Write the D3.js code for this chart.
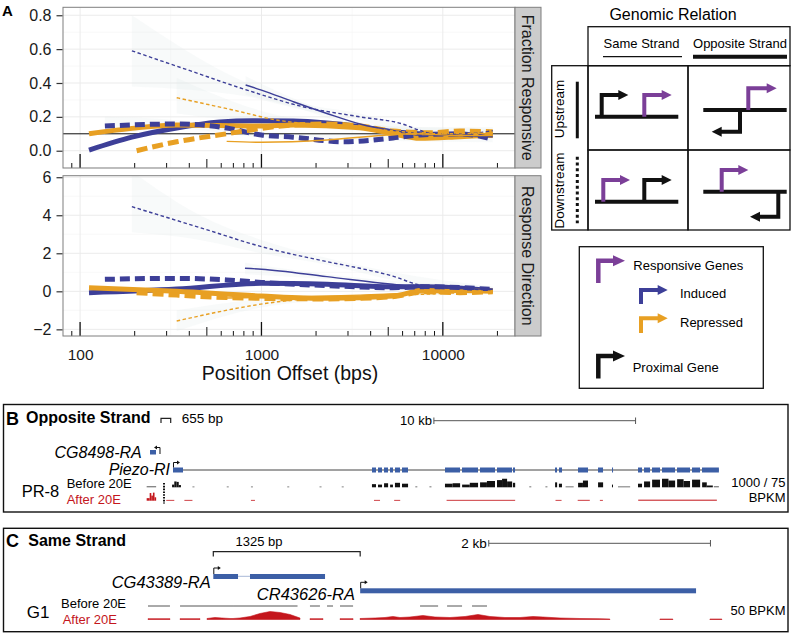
<!DOCTYPE html>
<html><head><meta charset="utf-8">
<script src="https://cdn.jsdelivr.net/npm/d3@7"></script>
<style>body{margin:0;background:#fff}svg{display:block;font-family:"Liberation Sans",Arial,Helvetica,sans-serif}</style>
</head><body><svg id="c" width="794" height="635"></svg>
<script>
// ---------------- DATA ----------------
const xTickValues = [100, 1000, 10000];
const facetLabels = ["Fraction Responsive", "Response Direction"];
const yTicksFraction = [0, 0.2, 0.4, 0.6, 0.8];
const yTicksDirection = [-2, 0, 2, 4, 6];
const fractionReference = 0.1;
const logTickMantissas = [1,2,3,4,5,6,7,8,9];
const logTickDecades = [10, 100, 1000, 10000];

// Fraction Responsive  [offset bp, value]
const frIndSameDown = [[193,0.59],[400,0.474],[832,0.358],[1694,0.26],[3491,0.2],[6030,0.157],[7470,0.12],[9000,0.1],[13000,0.1],[18840,0.118]];
const frIndSameUp   = [[818,0.388],[1000,0.358],[1493,0.29],[2296,0.22],[3491,0.158],[5300,0.12],[7470,0.1],[12000,0.09],[18840,0.085]];
const frRepSameDown = [[341,0.313],[700,0.24],[1233,0.18],[2500,0.15],[5000,0.12],[9000,0.1],[18840,0.105]];
const frRepSameUp   = [[643,0.055],[1000,0.05],[2296,0.063],[4910,0.093],[7000,0.1],[12000,0.09],[18840,0.09]];
const frIndOppUp    = [[112,0.004],[193,0.08],[341,0.134],[590,0.169],[898,0.177],[1493,0.175],[3491,0.142],[5300,0.112],[7470,0.1],[12000,0.09],[18840,0.09]];
const frIndOppDown  = [[137,0.146],[341,0.158],[643,0.134],[1000,0.093],[1493,0.08],[2812,0.053],[5300,0.075],[7470,0.093],[12400,0.1],[18840,0.067]];
const frRepOppUp    = [[112,0.1],[193,0.132],[341,0.152],[1000,0.146],[1493,0.152],[3491,0.136],[5300,0.1],[7470,0.073],[12400,0.083],[18840,0.093]];
const frRepOppDown  = [[205,0.0],[341,0.053],[643,0.1],[1000,0.132],[1493,0.152],[2296,0.158],[3491,0.146],[5300,0.116],[8300,0.106],[12400,0.116],[18840,0.112]];

// Response Direction
const rdIndSameDown = [[193,4.45],[458,3.35],[1000,2.35],[2296,1.56],[3491,1.21],[5300,0.8],[7470,0.33],[12000,0.15],[18840,0.07]];
const rdIndSameUp   = [[811,1.21],[1000,1.16],[2296,0.77],[5300,0.37],[7470,0.24],[12000,0.15],[18840,0.1]];
const rdRepSameDown = [[341,-1.56],[1233,-0.55],[1493,-0.46],[3491,-0.28],[7470,-0.16],[18840,0.0]];
const rdRepSameUp   = [[643,-0.35],[1500,-0.3],[3500,-0.2],[7470,-0.08],[18840,-0.02]];
const rdIndOppUp    = [[112,-0.07],[341,0.12],[1000,0.42],[2296,0.37],[5300,0.24],[8000,0.24],[18840,0.03]];
const rdIndOppDown  = [[137,0.63],[341,0.68],[643,0.6],[1000,0.47],[2296,0.3],[5300,0.19],[8000,0.24],[18840,0.1]];
const rdRepOppUp    = [[112,0.19],[341,0.0],[1000,-0.25],[2296,-0.37],[5300,-0.25],[8000,0.07],[18840,0.0]];
const rdRepOppDown  = [[205,-0.07],[341,-0.2],[643,-0.33],[1000,-0.37],[2296,-0.4],[5300,-0.28],[8000,-0.02],[12400,-0.07],[18840,-0.02]];

// confidence bands [offset, low, high]
const frBandIndSameDown = [[193,0.38,0.8],[832,0.32,0.40],[1694,0.24,0.28],[3491,0.18,0.22],[7470,0.09,0.14],[18840,0.09,0.14]];
const frBandRepSameDown = [[341,0.22,0.43],[1233,0.15,0.21],[3000,0.12,0.16],[18840,0.08,0.13]];
const frBandIndSameUp   = [[818,0.33,0.44],[1493,0.26,0.31],[3491,0.14,0.17],[18840,0.07,0.1]];
const frBandIndOppDown  = [[137,0.09,0.2],[341,0.13,0.18],[1000,0.08,0.11],[18840,0.05,0.08]];
const rdBandIndSameDown = [[193,3.1,6.3],[458,2.7,4.0],[1000,2.0,2.7],[2296,1.4,1.75],[5300,0.6,1.0],[18840,-0.1,0.25]];
const rdBandRepSameDown = [[341,-2.1,-1.0],[1000,-0.85,-0.4],[3491,-0.38,-0.18],[18840,-0.15,0.15]];
const rdBandIndSameUp   = [[811,0.9,1.5],[2296,0.65,0.9],[18840,0.0,0.2]];

// Panel B (Opposite Strand, PR-8) genomic coordinates (bp)
const bGeneCG8498 = [496, 793];
const bPiezoFirstExon = [1636, 2132];
const bPiezoExons = [[11502,11701],[11800,11998],[12097,12296],[12395,12543],[12643,12891],[12990,13287],[15122,15866],[15965,16758],[16857,17601],[17700,18444],[18493,18593],[20576,20675],[20774,20923],[21716,22212],[22708,22956],[23402,23452],[24691,24890],[24989,25286],[25385,25782],[25881,26526],[26625,27269],[27368,27765],[27864,28700]];
const bPiezoEnd = 28700;
const bDividerBp = 1190;
// coverage segments [start, end, relative value]
const bBefore = [[330,800,0.12],[1590,1700,0.3],[1700,1810,0.65],[1810,1920,0.6],[1920,2030,0.25],[2600,2700,0.08],[4300,4400,0.08],[5500,5600,0.08],[7300,7400,0.08],[8900,9000,0.08],[10000,10100,0.08],[11500,11700,0.35],[11800,12000,0.3],[12100,12300,0.45],[12400,12540,0.3],[12640,12890,0.5],[12990,13290,0.4],[13650,13750,0.1],[14350,14450,0.1],[15120,15500,0.4],[15500,15870,0.45],[15970,16350,0.3],[16350,16760,0.5],[16860,17200,0.55],[17200,17600,0.7],[17700,17950,0.8],[17950,18200,0.95],[18200,18450,0.65],[18490,18600,0.5],[19300,19400,0.1],[20100,20200,0.1],[20580,20680,0.55],[20770,20920,0.4],[21100,21500,0.1],[21720,21960,0.5],[21960,22210,0.75],[22710,22960,0.55],[23400,23450,0.3],[23700,24300,0.1],[24690,24890,0.4],[24990,25290,0.65],[25390,25780,0.85],[25880,26200,0.95],[26200,26530,0.75],[26630,26950,0.9],[26950,27270,0.7],[27370,27770,0.85],[27870,28100,0.55],[28100,28400,0.2],[28450,28700,0.12]];
const bAfter = [[330,480,0.3],[480,560,0.9],[560,640,0.6],[640,720,0.95],[720,800,0.4],[1300,1700,0.08],[2200,2600,0.08],[5500,5700,0.08],[11600,11900,0.08],[12600,12900,0.08],[15200,18600,0.1],[20600,20900,0.08],[21700,22300,0.1],[22800,22950,0.08],[24700,28600,0.12]];

// Panel C (Same Strand, G1) coordinates (bp, relative to CG43389 TSS)
const cGeneCG43389 = [[0,223],[331,1008]];
const cGeneCR43626 = [1325,4355];
const cBracket = [0,1325];
const cBeforeSegments = [[-589,-391],[-300,178],[178,760],[872,962],[1026,1080],[1143,1261],[1865,2028],[2109,2244],[2334,2469]];
const cAfter = [
  [[-589,4],[-391,4]],
  [[-300,4],[-120,4]],
  [[-57,5],[15,10],[78,7.5],[151,5],[178,5],[241,7.5],[331,15],[421,30],[512,40],[602,35],[692,25],[782,7.5]],
  [[872,4],[990,4]],
  [[1143,4],[1261,4]],
  [[1324,5],[1459,7.5],[1549,10],[1620,15],[1684,10],[1774,12.5],[1891,20],[2000,12.5],[2135,10],[2271,15],[2388,25],[2496,15],[2631,10],[2767,10],[2884,15],[2974,12.5],[3128,7.5],[3308,5],[3488,4],[3578,2.5]],
  [[4029,2.5],[4146,2.5]],
  [[4480,2.5],[4588,2.5]]
];

// ---------------- DRAW ----------------
const svg = d3.select("#c");
svg.append("rect").attr("width",794).attr("height",635).attr("fill","#fff");

const BLUE = "#3d3f98", ORANGE = "#e8a023", PURPLE = "#7b3f98", GENE = "#3c5fa6", RED = "#c4161c";

const panelL = 63, panelR = 515, stripR = 541;
const x = d3.scaleLog().domain([80.5, 25000]).range([panelL, panelR]);
const facets = [
  {label: facetLabels[0], top: 7.3, bottom: 168, y: d3.scaleLinear().domain([-0.102, 0.847]).range([168, 7.3]),
   ticks: yTicksFraction, minor: [-0.1,0.1,0.3,0.5,0.7], fmt: d3.format(".1f"),
   series: [
    {d: frIndOppUp, c: BLUE, w: 5, dash: null},
    {d: frRepOppUp, c: ORANGE, w: 5, dash: null},
    {d: frIndOppDown, c: BLUE, w: 5, dash: "10,5"},
    {d: frRepOppDown, c: ORANGE, w: 5, dash: "11,5"},
    {d: frIndSameDown, c: BLUE, w: 1.4, dash: "3.5,2.5"},
    {d: frIndSameUp, c: BLUE, w: 1.4, dash: null},
    {d: frRepSameDown, c: ORANGE, w: 1.4, dash: "3.5,2.5"},
    {d: frRepSameUp, c: ORANGE, w: 1.4, dash: null}],
   bands: [frBandIndSameDown, frBandRepSameDown, frBandIndSameUp, frBandIndOppDown], ref: fractionReference},
  {label: facetLabels[1], top: 175.7, bottom: 336, y: d3.scaleLinear().domain([-2.35, 6.08]).range([336, 175.7]),
   ticks: yTicksDirection, minor: [-1,1,3,5], fmt: d3.format("d"),
   series: [
    {d: rdIndOppUp, c: BLUE, w: 5, dash: null},
    {d: rdRepOppUp, c: ORANGE, w: 5, dash: null},
    {d: rdIndOppDown, c: BLUE, w: 5, dash: "10,5"},
    {d: rdRepOppDown, c: ORANGE, w: 5, dash: "11,5"},
    {d: rdIndSameDown, c: BLUE, w: 1.4, dash: "3.5,2.5"},
    {d: rdIndSameUp, c: BLUE, w: 1.4, dash: null},
    {d: rdRepSameDown, c: ORANGE, w: 1.4, dash: "3.5,2.5"},
    {d: rdRepSameUp, c: ORANGE, w: 1.4, dash: null}],
   bands: [rdBandIndSameDown, rdBandRepSameDown, rdBandIndSameUp], ref: null}
];

const xMinor = [Math.pow(10,2.5), Math.pow(10,3.5)];
const logTicks = [];
logTickDecades.forEach(dec => logTickMantissas.forEach(m => { const v = m*dec; if (v > 80.5 && v < 25000) logTicks.push({v, m}); }));

facets.forEach((f, i) => {
  const g = svg.append("g");
  const cid = "clip" + i;
  svg.append("clipPath").attr("id", cid).append("rect")
    .attr("x", panelL).attr("y", f.top).attr("width", panelR - panelL).attr("height", f.bottom - f.top);
  // grid
  g.selectAll(".gmy").data(f.minor).join("line").attr("x1", panelL).attr("x2", panelR)
    .attr("y1", d => f.y(d)).attr("y2", d => f.y(d)).attr("stroke", "#f3f3f3").attr("stroke-width", 0.6);
  g.selectAll(".gmx").data(xMinor).join("line").attr("y1", f.top).attr("y2", f.bottom)
    .attr("x1", d => x(d)).attr("x2", d => x(d)).attr("stroke", "#f3f3f3").attr("stroke-width", 0.6);
  g.selectAll(".gy").data(f.ticks).join("line").attr("x1", panelL).attr("x2", panelR)
    .attr("y1", d => f.y(d)).attr("y2", d => f.y(d)).attr("stroke", "#ebebeb").attr("stroke-width", 1);
  g.selectAll(".gx").data(xTickValues).join("line").attr("y1", f.top).attr("y2", f.bottom)
    .attr("x1", d => x(d)).attr("x2", d => x(d)).attr("stroke", "#ebebeb").attr("stroke-width", 1);

  const inner = g.append("g").attr("clip-path", `url(#${cid})`);
  // bands
  const area = d3.area().x(d => x(d[0])).y0(d => f.y(d[1])).y1(d => f.y(d[2])).curve(d3.curveMonotoneX);
  inner.selectAll(".band").data(f.bands).join("path").attr("d", area)
    .attr("fill", "#dde6e6").attr("fill-opacity", 0.22);
  // reference line
  if (f.ref !== null) {
    inner.append("line").attr("x1", panelL).attr("x2", panelR).attr("y1", f.y(f.ref)).attr("y2", f.y(f.ref))
      .attr("stroke", "#111").attr("stroke-width", 1);
  }
  // lines
  const line = d3.line().x(d => x(d[0])).y(d => f.y(d[1])).curve(d3.curveMonotoneX);
  inner.selectAll(".ser").data(f.series).join("path").attr("d", d => line(d.d))
    .attr("fill", "none").attr("stroke", d => d.c).attr("stroke-width", d => d.w)
    .attr("stroke-dasharray", d => d.dash);
  // log ticks
  g.selectAll(".lt").data(logTicks).join("line")
    .attr("x1", d => x(d.v)).attr("x2", d => x(d.v)).attr("y1", f.bottom)
    .attr("y2", d => f.bottom - (d.m === 1 ? 14 : d.m === 5 ? 9 : 5))
    .attr("stroke", "#111").attr("stroke-width", d => d.m === 1 ? 1.3 : 1);
  // border
  g.append("rect").attr("x", panelL).attr("y", f.top).attr("width", panelR - panelL).attr("height", f.bottom - f.top)
    .attr("fill", "none").attr("stroke", "#7f7f7f").attr("stroke-width", 1);
  // strip
  g.append("rect").attr("x", panelR).attr("y", f.top).attr("width", stripR - panelR).attr("height", f.bottom - f.top)
    .attr("fill", "#cccccc").attr("stroke", "#7f7f7f").attr("stroke-width", 1);
  g.append("text").attr("transform", `translate(${(panelR + stripR) / 2 - 6},${(f.top + f.bottom) / 2}) rotate(90)`)
    .attr("text-anchor", "middle").attr("font-size", 16).attr("fill", "#1a1a1a").text(f.label);
  // y axis
  const ya = svg.append("g").attr("transform", `translate(${panelL - 0.5},0)`)
    .call(d3.axisLeft(f.y).tickValues(f.ticks).tickFormat(f.fmt).tickSize(6).tickPadding(5).tickSizeOuter(0));
  ya.select(".domain").remove();
  ya.selectAll("line").attr("stroke", "#333").attr("stroke-width", 1.2);
  ya.selectAll("text").attr("font-size", 16).attr("fill", "#1a1a1a").attr("font-family", "Liberation Sans, Arial, sans-serif");
});

// x axis
const xa = svg.append("g").attr("transform", `translate(0,336)`)
  .call(d3.axisBottom(x).tickValues(xTickValues).tickFormat(d3.format("d")).tickSize(0).tickPadding(13));
xa.select(".domain").remove();
xa.selectAll("text").attr("font-size", 15.5).attr("fill", "#1a1a1a").attr("font-family", "Liberation Sans, Arial, sans-serif");
svg.append("text").attr("x", 290).attr("y", 380).attr("text-anchor", "middle").attr("font-size", 19.5)
  .attr("fill", "#111").text("Position Offset (bps)");
svg.append("text").attr("x", 2).attr("y", 15.5).attr("font-size", 15).attr("font-weight", "bold").text("A");

// ---------- Genomic relation diagram ----------
function bentArrow(g, color, xs, y0, y1, x1, sw, hl, hw) {
  const dir = x1 > xs ? 1 : -1;
  g.append("path").attr("d", `M${xs},${y0} V${y1} H${x1 - dir * (hl - 1)}`)
    .attr("fill", "none").attr("stroke", color).attr("stroke-width", sw).attr("stroke-linejoin", "miter");
  g.append("path").attr("d", `M${x1 - dir * hl},${y1 - hw} L${x1},${y1} L${x1 - dir * hl},${y1 + hw} Z`).attr("fill", color);
}
const dg = svg.append("g");
dg.append("text").attr("x", 673).attr("y", 20).attr("text-anchor", "middle").attr("font-size", 16).text("Genomic Relation");
const tb = {l: 551.7, c0: 588, c1: 688, r: 790, t: 26.7, h: 65.7, m: 150, b: 230};
dg.append("rect").attr("x", tb.c0).attr("y", tb.t).attr("width", tb.r - tb.c0).attr("height", tb.h - tb.t)
  .attr("fill", "none").attr("stroke", "#111").attr("stroke-width", 1.3);
dg.append("rect").attr("x", tb.l).attr("y", tb.h).attr("width", tb.c0 - tb.l).attr("height", tb.b - tb.h)
  .attr("fill", "none").attr("stroke", "#111").attr("stroke-width", 1.3);
[[tb.c0, tb.h, tb.c1, tb.m], [tb.c1, tb.h, tb.r, tb.m], [tb.c0, tb.m, tb.c1, tb.b], [tb.c1, tb.m, tb.r, tb.b]].forEach(r =>
  dg.append("rect").attr("x", r[0]).attr("y", r[1]).attr("width", r[2] - r[0]).attr("height", r[3] - r[1])
    .attr("fill", "none").attr("stroke", "#111").attr("stroke-width", 1.3));
dg.append("text").attr("x", 641.5).attr("y", 48).attr("text-anchor", "middle").attr("font-size", 13).text("Same Strand");
dg.append("text").attr("x", 740).attr("y", 48).attr("text-anchor", "middle").attr("font-size", 13).text("Opposite Strand");
dg.append("line").attr("x1", 603).attr("x2", 682).attr("y1", 56.7).attr("y2", 56.7).attr("stroke", "#111").attr("stroke-width", 1.3);
dg.append("line").attr("x1", 693).attr("x2", 787).attr("y1", 56.7).attr("y2", 56.7).attr("stroke", "#111").attr("stroke-width", 4);
dg.append("text").attr("transform", "translate(564,109) rotate(-90)").attr("text-anchor", "middle").attr("font-size", 13.5).text("Upstream");
dg.append("text").attr("transform", "translate(564,190.5) rotate(-90)").attr("text-anchor", "middle").attr("font-size", 13.5).text("Downstream");
dg.append("line").attr("x1", 577.3).attr("x2", 577.3).attr("y1", 81.7).attr("y2", 138.3).attr("stroke", "#111").attr("stroke-width", 3);
dg.append("line").attr("x1", 577.3).attr("x2", 577.3).attr("y1", 156.7).attr("y2", 223.3).attr("stroke", "#111").attr("stroke-width", 3).attr("stroke-dasharray", "3,2.8");
// cell baselines
[[595, 678.3, 116.7], [703.3, 786.7, 110], [595, 678.3, 201.7], [703.3, 786.7, 191.7]].forEach(b =>
  dg.append("line").attr("x1", b[0]).attr("x2", b[1]).attr("y1", b[2]).attr("y2", b[2]).attr("stroke", "#111").attr("stroke-width", 4));
bentArrow(dg, "#111", 601.7, 116.7, 95, 628.3, 4, 10, 5);
bentArrow(dg, PURPLE, 644.3, 116.7, 95, 671.7, 4, 10, 5);
bentArrow(dg, PURPLE, 748.3, 110, 88.3, 776.7, 4, 10, 5);
bentArrow(dg, "#111", 740, 110, 131.7, 711.7, 4, 10, 5);
bentArrow(dg, PURPLE, 603.3, 201.7, 180, 630, 4, 10, 5);
bentArrow(dg, "#111", 644.3, 201.7, 180, 671.7, 4, 10, 5);
bentArrow(dg, PURPLE, 721.7, 191.7, 170, 748.3, 4, 10, 5);
bentArrow(dg, "#111", 778.3, 191.7, 216.7, 750, 4, 10, 5);

// legend box
const lg = svg.append("g");
lg.append("rect").attr("x", 579.3).attr("y", 246.7).attr("width", 184).attr("height", 141.6)
  .attr("fill", "none").attr("stroke", "#111").attr("stroke-width", 1.3);
bentArrow(lg, PURPLE, 598.3, 283, 260.7, 625, 4.5, 12, 5.5);
bentArrow(lg, BLUE, 641, 304, 290, 667.7, 4, 10, 5);
bentArrow(lg, ORANGE, 641, 333, 318.3, 667.7, 4, 10, 5);
bentArrow(lg, "#111", 598.3, 378.5, 356, 625, 4.5, 12, 5.5);
lg.append("text").attr("x", 633.3).attr("y", 270).attr("font-size", 13).text("Responsive Genes");
lg.append("text").attr("x", 680).attr("y", 298).attr("font-size", 13).text("Induced");
lg.append("text").attr("x", 680).attr("y", 326.7).attr("font-size", 13).text("Repressed");
lg.append("text").attr("x", 632.7).attr("y", 372).attr("font-size", 13).text("Proximal Gene");

// ---------- Panel B ----------
const B = svg.append("g");
B.append("rect").attr("x", 3.5).attr("y", 404.5).attr("width", 784.5).attr("height", 107.5)
  .attr("fill", "none").attr("stroke", "#111").attr("stroke-width", 1.4);
B.append("text").attr("x", 6).attr("y", 425).attr("font-size", 18).attr("font-weight", "bold").text("B");
B.append("text").attr("x", 26).attr("y", 423.3).attr("font-size", 16).attr("font-weight", "bold").text("Opposite Strand");
B.append("path").attr("d", "M161,423 V418.3 H170.7 V423").attr("fill", "none").attr("stroke", "#222").attr("stroke-width", 1.2);
B.append("text").attr("x", 181.7).attr("y", 423.3).attr("font-size", 13.5).text("655 bp");
const xb = d3.scaleLinear().domain([0, 30000]).range([140, 140 + 30000 * 0.02017]);
B.append("text").attr("x", xb(14570) - 2).attr("y", 425).attr("text-anchor", "end").attr("font-size", 13).text("10 kb");
B.append("path").attr("d", `M${xb(14570)},420.7 H${xb(24570)} M${xb(14570)},417.5 V424 M${xb(24570)},417.5 V424`)
  .attr("fill", "none").attr("stroke", "#555").attr("stroke-width", 1);
B.append("text").attr("x", 141.7).attr("y", 458).attr("text-anchor", "end").attr("font-size", 16).attr("font-style", "italic").text("CG8498-RA");
B.append("text").attr("x", 170).attr("y", 475).attr("text-anchor", "end").attr("font-size", 16).attr("font-style", "italic").text("Piezo-RI");
// CG8498 icon
B.append("rect").attr("x", xb(bGeneCG8498[0])).attr("y", 450).attr("width", xb(bGeneCG8498[1]) - xb(bGeneCG8498[0])).attr("height", 4.5).attr("fill", GENE);
B.append("path").attr("d", `M${xb(bGeneCG8498[1]) + 4},454 V447.5 H${xb(bGeneCG8498[1]) - 1}`).attr("fill", "none").attr("stroke", "#111").attr("stroke-width", 1);
B.append("path").attr("d", `M${xb(bGeneCG8498[1]) - 2},447.5 l3,-2 v4 z`).attr("fill", "#111");
// Piezo
B.append("line").attr("x1", xb(bPiezoFirstExon[1])).attr("x2", xb(bPiezoEnd)).attr("y1", 470).attr("y2", 470).attr("stroke", "#444").attr("stroke-width", 1);
B.append("rect").attr("x", xb(bPiezoFirstExon[0])).attr("y", 467.5).attr("width", xb(bPiezoFirstExon[1]) - xb(bPiezoFirstExon[0])).attr("height", 5).attr("fill", GENE);
B.append("path").attr("d", `M${xb(bPiezoFirstExon[0]) + 0.5},467.5 V462.5 H${xb(bPiezoFirstExon[0]) + 5}`).attr("fill", "none").attr("stroke", "#111").attr("stroke-width", 1);
B.append("path").attr("d", `M${xb(bPiezoFirstExon[0]) + 7},462.5 l-3,-2 v4 z`).attr("fill", "#111");
B.selectAll(".ex").data(bPiezoExons).join("rect").attr("x", d => xb(d[0])).attr("y", 467.5)
  .attr("width", d => Math.max(1, xb(d[1]) - xb(d[0]))).attr("height", 5).attr("fill", GENE);
// tracks
const bBeforeBase = 487.3, bAfterBase = 500.7;
B.selectAll(".cb").data(bBefore).join("rect").attr("x", d => xb(d[0])).attr("width", d => Math.max(1, xb(d[1]) - xb(d[0])))
  .attr("y", d => bBeforeBase - Math.max(0.8, d[2] * 9)).attr("height", d => Math.max(0.8, d[2] * 9))
  .attr("fill", d => d[2] < 0.15 ? "#666" : "#111");
B.selectAll(".ca").data(bAfter).join("rect").attr("x", d => xb(d[0])).attr("width", d => Math.max(1, xb(d[1]) - xb(d[0])))
  .attr("y", d => bAfterBase - Math.max(0.8, d[2] * 8.5)).attr("height", d => Math.max(0.8, d[2] * 8.5))
  .attr("fill", RED);
B.append("line").attr("x1", xb(bDividerBp)).attr("x2", xb(bDividerBp)).attr("y1", 483).attr("y2", 503.5)
  .attr("stroke", "#111").attr("stroke-width", 2).attr("stroke-dasharray", "1.6,1.2");
B.append("text").attr("x", 21.7).attr("y", 497).attr("font-size", 16.5).text("PR-8");
B.append("text").attr("x", 66.7).attr("y", 488.3).attr("font-size", 13).text("Before 20E");
B.append("text").attr("x", 66.7).attr("y", 503.5).attr("font-size", 13).attr("fill", RED).text("After 20E");
B.append("text").attr("x", 785.5).attr("y", 487).attr("text-anchor", "end").attr("font-size", 13).text("1000 / 75");
B.append("text").attr("x", 785.5).attr("y", 501.5).attr("text-anchor", "end").attr("font-size", 13).text("BPKM");

// ---------- Panel C ----------
const C = svg.append("g");
C.append("rect").attr("x", 3.5).attr("y", 528.3).attr("width", 784.5).attr("height", 103.4)
  .attr("fill", "none").attr("stroke", "#111").attr("stroke-width", 1.4);
C.append("text").attr("x", 6).attr("y", 546.7).attr("font-size", 18).attr("font-weight", "bold").text("C");
C.append("text").attr("x", 28.3).attr("y", 546).attr("font-size", 16).attr("font-weight", "bold").text("Same Strand");
const xc = d3.scaleLinear().domain([0, 1000]).range([213.3, 213.3 + 110.85]);
C.append("path").attr("d", `M${xc(cBracket[0])},556.5 V551.7 H${xc(cBracket[1])} V556.5`).attr("fill", "none").attr("stroke", "#222").attr("stroke-width", 1.2);
C.append("text").attr("x", 259).attr("y", 546).attr("text-anchor", "middle").attr("font-size", 13).text("1325 bp");
C.append("text").attr("x", xc(2485) - 2).attr("y", 548).attr("text-anchor", "end").attr("font-size", 13.5).text("2 kb");
C.append("path").attr("d", `M${xc(2485)},543.3 H${xc(4485)} M${xc(2485)},540 V546.5 M${xc(4485)},540 V546.5`)
  .attr("fill", "none").attr("stroke", "#555").attr("stroke-width", 1);
C.append("text").attr("x", 210.7).attr("y", 587.5).attr("text-anchor", "end").attr("font-size", 16.5).attr("font-style", "italic").text("CG43389-RA");
C.append("text").attr("x", 355).attr("y", 600).attr("text-anchor", "end").attr("font-size", 16.5).attr("font-style", "italic").text("CR43626-RA");
C.append("line").attr("x1", xc(cGeneCG43389[0][1])).attr("x2", xc(cGeneCG43389[1][0])).attr("y1", 576.3).attr("y2", 576.3).attr("stroke", "#a8b8d8").attr("stroke-width", 1);
C.selectAll(".g1").data(cGeneCG43389).join("rect").attr("x", d => xc(d[0])).attr("y", 574)
  .attr("width", d => xc(d[1]) - xc(d[0])).attr("height", 5).attr("fill", GENE);
C.append("rect").attr("x", xc(cGeneCR43626[0])).attr("y", 588.3).attr("width", xc(cGeneCR43626[1]) - xc(cGeneCR43626[0])).attr("height", 5).attr("fill", GENE);
[[cGeneCG43389[0][0], 574], [cGeneCR43626[0], 588.3]].forEach(a => {
  C.append("path").attr("d", `M${xc(a[0]) + 0.5},${a[1]} V${a[1] - 6} H${xc(a[0]) + 5}`).attr("fill", "none").attr("stroke", "#111").attr("stroke-width", 1);
  C.append("path").attr("d", `M${xc(a[0]) + 7.5},${a[1] - 6} l-3,-2 v4 z`).attr("fill", "#111");
});
// before track
C.selectAll(".cbf").data(cBeforeSegments).join("line").attr("x1", d => xc(d[0])).attr("x2", d => xc(d[1]))
  .attr("y1", 606).attr("y2", 606).attr("stroke", "#555").attr("stroke-width", 1);
// after track
const cAfterBase = 619.5;
const cArea = d3.area().x(d => xc(d[0])).y0(cAfterBase).y1(d => cAfterBase - d[1] / 5).curve(d3.curveLinear);
C.selectAll(".caf").data(cAfter).join("path").attr("d", cArea).attr("fill", RED).attr("stroke", RED).attr("stroke-width", 0.6);
C.append("text").attr("x", 26.7).attr("y", 617.5).attr("font-size", 17).text("G1");
C.append("text").attr("x", 61).attr("y", 607.7).attr("font-size", 13).text("Before 20E");
C.append("text").attr("x", 62.7).attr("y", 624.3).attr("font-size", 13).attr("fill", RED).text("After 20E");
C.append("text").attr("x", 785.5).attr("y", 615.3).attr("text-anchor", "end").attr("font-size", 13).text("50 BPKM");
</script></body></html>
